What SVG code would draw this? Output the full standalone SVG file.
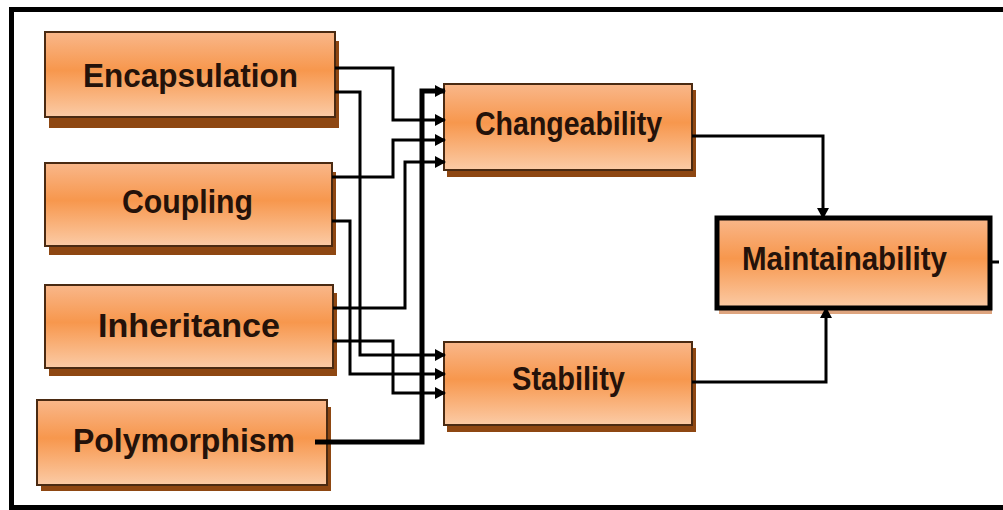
<svg xmlns="http://www.w3.org/2000/svg" width="1003" height="510" viewBox="0 0 1003 510">
<style>
.box{fill:url(#og);stroke:#4a2a12;stroke-width:2}
.shadow{fill:#8e4712}
.lbl{font-family:"Liberation Sans",Arial,sans-serif;font-weight:bold;font-size:33px;fill:#24120a}
.ln{fill:none;stroke:#000;stroke-width:3;stroke-linejoin:miter}
.thick{stroke-width:5}
</style>
<defs>
<linearGradient id="og" x1="0" y1="0" x2="0" y2="1">
<stop offset="0" stop-color="#f9b78a"/>
<stop offset="0.45" stop-color="#f7974d"/>
<stop offset="1" stop-color="#fbcba6"/>
</linearGradient>
<marker id="ah" markerUnits="userSpaceOnUse" markerWidth="12" markerHeight="12" refX="10" refY="6" orient="auto">
<path d="M0,0 L11,6 L0,12 z" fill="#000"/>
</marker>
</defs>
<rect x="0" y="0" width="1003" height="510" fill="#fff"/>
<rect x="11.5" y="9.5" width="1000" height="498" fill="none" stroke="#000" stroke-width="5"/>

<g id="encapsulation">
<rect class="shadow" x="49" y="41" width="290" height="87"/>
<rect class="box" x="45" y="32" width="290" height="85"/>
<text class="lbl" x="83" y="87" textLength="215" lengthAdjust="spacingAndGlyphs">Encapsulation</text>
</g>
<g id="coupling">
<rect class="shadow" x="49" y="172" width="287" height="83"/>
<rect class="box" x="45" y="163" width="287" height="83"/>
<text class="lbl" x="122" y="213" textLength="131" lengthAdjust="spacingAndGlyphs">Coupling</text>
</g>
<g id="inheritance">
<rect class="shadow" x="49" y="293" width="288" height="83"/>
<rect class="box" x="45" y="285" width="288" height="83"/>
<text class="lbl" x="98" y="337" textLength="182" lengthAdjust="spacingAndGlyphs">Inheritance</text>
</g>
<g id="polymorphism">
<rect class="shadow" x="41" y="407" width="290" height="84"/>
<rect class="box" x="37" y="400" width="290" height="85"/>
<text class="lbl" x="73" y="452" textLength="222" lengthAdjust="spacingAndGlyphs">Polymorphism</text>
</g>
<g id="changeability">
<rect class="shadow" x="447" y="90" width="249" height="87"/>
<rect class="box" x="444" y="84" width="248" height="86"/>
<text class="lbl" x="475" y="135" textLength="187" lengthAdjust="spacingAndGlyphs">Changeability</text>
</g>
<g id="stability">
<rect class="shadow" x="447" y="348" width="249" height="84"/>
<rect class="box" x="444" y="342" width="248" height="83"/>
<text class="lbl" x="512" y="390" textLength="113" lengthAdjust="spacingAndGlyphs">Stability</text>
</g>
<g id="maintainability">
<rect x="719" y="222" width="273" height="92" fill="#c8692a" opacity="0.6"/>
<rect x="717" y="218" width="273" height="90" fill="url(#og)" stroke="#000" stroke-width="5"/>
<text class="lbl" x="742" y="270" textLength="205" lengthAdjust="spacingAndGlyphs">Maintainability</text>
</g>

<g id="connectors">
<path class="ln" d="M335,68 H393 V120 H445" marker-end="url(#ah)"/>
<path class="ln" d="M335,92 H360 V355 H445" marker-end="url(#ah)" stroke-width="4"/>
<path class="ln" d="M332,177 H393 V140 H445" marker-end="url(#ah)"/>
<path class="ln" d="M332,221 H350 V374 H445" marker-end="url(#ah)"/>
<path class="ln" d="M333,308 H405 V162 H445" marker-end="url(#ah)"/>
<path class="ln" d="M333,341 H393 V393 H445" marker-end="url(#ah)"/>
<path class="ln thick" d="M315,442 H422 V91 H445" marker-end="url(#ah)"/>
<path class="ln" d="M692,136 H823 V218" marker-end="url(#ah)"/>
<path class="ln" d="M692,382 H826 V308" marker-end="url(#ah)"/>
<path class="ln" d="M990,262 H999"/>
</g>
</svg>
